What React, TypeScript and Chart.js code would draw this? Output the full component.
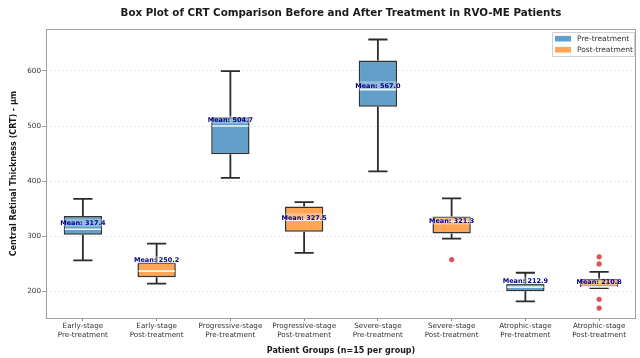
import React, { useEffect, useRef } from "react";
import { Chart, registerables } from "chart.js";

Chart.register(...registerables);

// ---------- data ----------
const CATEGORIES = [
  "Early-stage\nPre-treatment",
  "Early-stage\nPost-treatment",
  "Progressive-stage\nPre-treatment",
  "Progressive-stage\nPost-treatment",
  "Severe-stage\nPre-treatment",
  "Severe-stage\nPost-treatment",
  "Atrophic-stage\nPre-treatment",
  "Atrophic-stage\nPost-treatment",
];
const TREATMENT = ["Pre", "Post", "Pre", "Post", "Pre", "Post", "Pre", "Post"];
const WHISKER_LOW = [256.5, 214.5, 406, 270, 418, 296, 182, 206];
const Q1 = [303, 226, 449, 308.5, 535, 305, 200.5, 208];
const MEDIAN = [313, 237, 500, 330, 566, 327, 208, 208.5];
const Q3 = [337, 252.5, 516, 354, 619, 336, 214, 223];
const WHISKER_HIGH = [368, 287, 599.5, 362, 657, 369, 234, 235.5];
const MEANS = [317.4, 250.2, 504.7, 327.5, 567.0, 321.3, 212.9, 210.8];
const OUTLIER_GROUPS = [
  "Severe-stage\nPost-treatment",
  "Atrophic-stage\nPost-treatment",
  "Atrophic-stage\nPost-treatment",
  "Atrophic-stage\nPost-treatment",
  "Atrophic-stage\nPost-treatment",
];
const OUTLIER_VALUES = [258, 263, 250, 186, 170];
const Y_TICKS = [200, 300, 400, 500, 600];
const Y_MIN = 152;
const Y_MAX = 676;

const TITLE = "Box Plot of CRT Comparison Before and After Treatment in RVO-ME Patients";
const X_TITLE = "Patient Groups (n=15 per group)";
const Y_TITLE = "Central Retinal Thickness (CRT) - μm";
const LEGEND_LABELS = ["Pre-treatment", "Post-treatment"];

const PRE_COLOR = "rgba(31,119,180,0.7)";
const POST_COLOR = "rgba(255,127,14,0.7)";
const FONT = "'DejaVu Sans', sans-serif";

const boxPlugin = {
  id: "boxExtras",
  afterDatasetsDraw(chart: any) {
    const { ctx, scales } = chart;
    const xs = scales.x;
    const ys = scales.y;
    ctx.save();
    CATEGORIES.forEach((_, i) => {
      const dsIndex = TREATMENT[i] === "Pre" ? 0 : 1;
      const bar = chart.getDatasetMeta(dsIndex).data[i];
      const w = bar ? bar.width : 38;
      const x = xs.getPixelForValue(i);
      const yLow = ys.getPixelForValue(WHISKER_LOW[i]);
      const yQ1 = ys.getPixelForValue(Q1[i]);
      const yQ3 = ys.getPixelForValue(Q3[i]);
      const yHigh = ys.getPixelForValue(WHISKER_HIGH[i]);
      const yMed = ys.getPixelForValue(MEDIAN[i]);
      ctx.strokeStyle = "#2b2b2b";
      ctx.lineWidth = 1.8;
      ctx.beginPath();
      ctx.moveTo(x, yQ3);
      ctx.lineTo(x, yHigh);
      ctx.moveTo(x, yQ1);
      ctx.lineTo(x, yLow);
      ctx.moveTo(x - w / 4, yHigh);
      ctx.lineTo(x + w / 4, yHigh);
      ctx.moveTo(x - w / 4, yLow);
      ctx.lineTo(x + w / 4, yLow);
      ctx.stroke();
      // median
      ctx.strokeStyle = "rgba(255,255,255,0.9)";
      ctx.lineWidth = 1.6;
      ctx.beginPath();
      ctx.moveTo(x - w / 2 + 1, yMed);
      ctx.lineTo(x + w / 2 - 1, yMed);
      ctx.stroke();
    });
    // mean labels
    ctx.font = `bold 6.5px ${FONT}`;
    ctx.textAlign = "center";
    ctx.textBaseline = "bottom";
    CATEGORIES.forEach((_, i) => {
      const x = xs.getPixelForValue(i);
      const y = ys.getPixelForValue(MEANS[i]);
      const txt = `Mean: ${MEANS[i].toFixed(1)}`;
      const tw = ctx.measureText(txt).width;
      ctx.fillStyle = "rgba(255,255,255,0.3)";
      ctx.fillRect(x - tw / 2 - 1, y - 8, tw + 2, 8);
      ctx.fillStyle = "#00008b";
      ctx.fillText(txt, x, y);
    });
    ctx.restore();
  },
  afterDraw(chart: any) {
    const { ctx, chartArea } = chart;
    ctx.save();
    // frame
    ctx.strokeStyle = "#a0a0a0";
    ctx.lineWidth = 1;
    ctx.strokeRect(chartArea.left + 0.5, chartArea.top + 0.5, chartArea.right - chartArea.left - 1, chartArea.bottom - chartArea.top);
    // title
    ctx.fillStyle = "#1a1a1a";
    ctx.font = `bold 10.3px ${FONT}`;
    ctx.textAlign = "center";
    ctx.textBaseline = "middle";
    ctx.fillText(TITLE, (chartArea.left + chartArea.right) / 2, 13);
    // legend
    const lr = chartArea.right - 2;
    const ll = lr - 82;
    const lt = chartArea.top + 3;
    ctx.fillStyle = "rgba(255,255,255,0.85)";
    ctx.strokeStyle = "#d0d0d0";
    ctx.lineWidth = 1;
    ctx.beginPath();
    ctx.rect(ll + 0.5, lt + 0.5, lr - ll, 24);
    ctx.fill();
    ctx.stroke();
    const colors = [PRE_COLOR, POST_COLOR];
    ctx.font = `7.5px ${FONT}`;
    ctx.textAlign = "left";
    ctx.textBaseline = "middle";
    LEGEND_LABELS.forEach((lab, k) => {
      const cy = lt + 6.7 + k * 11;
      ctx.fillStyle = colors[k];
      ctx.fillRect(ll + 3, cy - 2.8, 16, 5.6);
      ctx.fillStyle = "#333";
      ctx.fillText(lab, ll + 25, cy);
    });
    ctx.restore();
  },
};

export default function App() {
  const ref = useRef<HTMLCanvasElement | null>(null);
  useEffect(() => {
    document.body.style.margin = "0";
    if (!ref.current) return;
    const preData = CATEGORIES.map((_, i) => (TREATMENT[i] === "Pre" ? [Q1[i], Q3[i]] : null));
    const postData = CATEGORIES.map((_, i) => (TREATMENT[i] === "Post" ? [Q1[i], Q3[i]] : null));
    const outliers = OUTLIER_GROUPS.map((g, k) => ({ x: g, y: OUTLIER_VALUES[k] }));
    const chart = new Chart(ref.current, {
      type: "bar",
      data: {
        labels: CATEGORIES,
        datasets: [
          {
            label: LEGEND_LABELS[0],
            data: preData as any,
            backgroundColor: PRE_COLOR,
            borderColor: "#333",
            borderWidth: 1.5,
            borderSkipped: false,
            grouped: false,
            barPercentage: 0.52,
            categoryPercentage: 1,
            order: 2,
          } as any,
          {
            label: LEGEND_LABELS[1],
            data: postData as any,
            backgroundColor: POST_COLOR,
            borderColor: "#333",
            borderWidth: 1.5,
            borderSkipped: false,
            grouped: false,
            barPercentage: 0.52,
            categoryPercentage: 1,
            order: 2,
          } as any,
          {
            type: "scatter",
            label: "Outliers",
            data: outliers as any,
            backgroundColor: "rgba(214,39,40,0.8)",
            borderWidth: 0,
            pointRadius: 2.6,
            order: 1,
          } as any,
        ],
      },
      options: {
        animation: false,
        responsive: false,
        devicePixelRatio: 1,
        layout: { padding: { top: 29, right: 2, left: 0, bottom: 0 } },
        plugins: {
          legend: { display: false },
          title: { display: false },
          tooltip: { enabled: false },
        },
        scales: {
          x: {
            type: "category",
            offset: true,
            grid: { drawOnChartArea: false, drawTicks: true, tickLength: 3, offset: false, tickColor: "#888" },
            border: { display: false },
            ticks: {
              font: { family: FONT, size: 7.2 },
              color: "#333",
              padding: 1,
              maxRotation: 0,
              autoSkip: false,
              callback: (_v: any, i: number) => CATEGORIES[i].split("\n"),
            },
            title: {
              display: true,
              text: X_TITLE,
              font: { family: FONT, size: 8, weight: "bold" },
              color: "#1a1a1a",
              padding: { top: 0, bottom: 2 },
            },
            afterFit: (s: any) => {
              s.height = 40;
            },
          } as any,
          y: {
            type: "linear",
            min: Y_MIN,
            max: Y_MAX,
            afterBuildTicks: (s: any) => {
              s.ticks = Y_TICKS.map((v) => ({ value: v }));
            },
            grid: { color: "#e2e2e2", lineWidth: 0.8, drawTicks: true, tickLength: 4, tickColor: "#888", tickBorderDash: [] },
            border: { display: false, dash: [2, 2] },
            ticks: { font: { family: FONT, size: 7.2 }, color: "#333", padding: 1 },
            title: {
              display: true,
              text: Y_TITLE,
              font: { family: FONT, size: 8, weight: "bold" },
              color: "#1a1a1a",
              padding: { top: 9, bottom: 0 },
            },
            afterFit: (s: any) => {
              s.width = 46;
            },
          } as any,
        },
      },
      plugins: [boxPlugin],
    });
    return () => chart.destroy();
  }, []);
  return (
    <div style={{ width: 640, height: 358 }}>
      <canvas ref={ref} width={640} height={358} style={{ display: "block" }} />
    </div>
  );
}
